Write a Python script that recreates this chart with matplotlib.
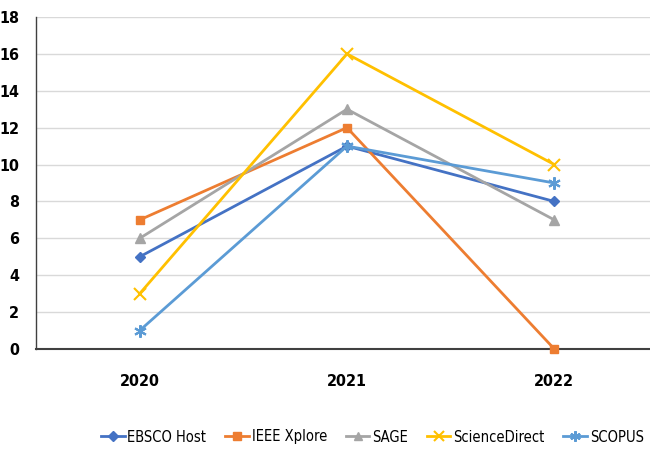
import matplotlib
matplotlib.use("Agg")
import matplotlib.pyplot as plt

years = ["2020", "2021", "2022"]
ebsco = [5, 11, 8]
ieee = [7, 12, 0]
sage = [6, 13, 7]
sciencedirect = [3, 16, 10]
scopus = [1, 11, 9]

series = [
    ("EBSCO Host", ebsco, "#4472C4", "D", 5.5),
    ("IEEE Xplore", ieee, "#ED7D31", "s", 6),
    ("SAGE", sage, "#A5A5A5", "^", 7),
    ("ScienceDirect", sciencedirect, "#FFC000", "x", 8),
    ("SCOPUS", scopus, "#5B9BD5", (6, 2, 0), 9),
]

plt.rcParams['font.family'] = ["Liberation Sans Narrow", "DejaVu Sans"]
plt.rcParams['font.stretch'] = "condensed"

fig = plt.figure(figsize=(6.5, 4.54), dpi=100)
ax = fig.add_axes([36/650, 1-349/454, (658-36)/650, (349-17)/454])

x = list(range(len(years)))
for name, vals, col, mk, ms in series:
    ax.plot(x, vals, color=col, lw=2, marker=mk, markersize=ms,
            markeredgewidth=1.5 if mk == "x" or isinstance(mk, tuple) else 1,
            label=name, clip_on=False, zorder=3)

ax.set_xlim(-0.5, 2.5)
ax.set_ylim(0, 18)
ax.set_yticks(range(0, 19, 2))
ax.set_xticks(x)
ax.set_xticklabels(years)
ax.grid(axis="y", color="#D9D9D9", lw=1)
ax.set_axisbelow(True)
for s in ["top", "right"]:
    ax.spines[s].set_visible(False)
ax.spines["left"].set_color("#404040")
ax.spines["bottom"].set_color("#404040")
ax.spines["left"].set_linewidth(1)
ax.spines["bottom"].set_linewidth(1.5)
ax.tick_params(axis="both", length=0, labelsize=11.5)
ax.tick_params(axis="x", pad=18)
ax.tick_params(axis="y", pad=12)
for lab in ax.get_xticklabels() + ax.get_yticklabels():
    lab.set_fontweight("bold")

leg = fig.legend(loc="center", bbox_to_anchor=(0.573, 1-437/454), ncol=5, frameon=False,
                 fontsize=10.5, handlelength=1.6, columnspacing=1.3, handletextpad=0.2,
                 markerscale=0.85)

fig.savefig("out.png", dpi=100)
